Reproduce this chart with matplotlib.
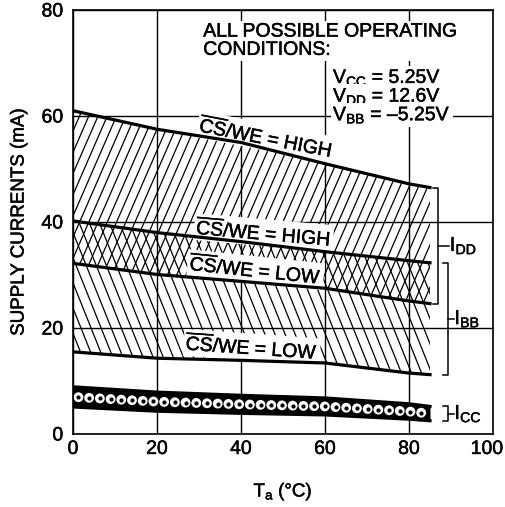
"Supply current vs ambient temperature, datasheet style"

import numpy as np
import matplotlib
matplotlib.use("Agg")
import matplotlib.pyplot as plt
import matplotlib.patheffects as pe
from matplotlib.collections import LineCollection
from matplotlib.patches import PathPatch
from matplotlib.transforms import ScaledTranslation

plt.rcParams['font.family'] = ['Liberation Sans', 'DejaVu Sans']
plt.rcParams['mathtext.fontset'] = 'custom'
plt.rcParams['mathtext.rm'] = 'Liberation Sans'
plt.rcParams['mathtext.it'] = 'Liberation Sans'

# ambient temperature (deg C)
temp = [0, 20, 40, 60, 80, 85]
# supply current limits (mA)
idd_high = [61.0, 57.5, 55.0, 51.0, 47.2, 46.5]
ibb_high = [40.2, 38.0, 36.3, 34.4, 32.7, 32.3]
idd_low = [32.2, 30.1, 28.8, 27.5, 25.1, 24.6]
ibb_low = [15.5, 14.3, 13.9, 13.4, 11.5, 11.2]
icc_high = [8.9, 7.9, 7.3, 6.8, 5.7, 5.2]
icc_low = [5.1, 4.3, 3.9, 3.6, 2.8, 2.5]

curve_labels = [r'$\overline{\mathregular{CS}}$/WE = HIGH',
                r'$\overline{\mathregular{CS}}$/WE = HIGH',
                r'$\overline{\mathregular{CS}}$/WE = LOW',
                r'$\overline{\mathregular{CS}}$/WE = LOW']
header = 'ALL POSSIBLE OPERATING\nCONDITIONS:'
supply_names = ['CC', 'DD', 'BB']
supply_volts = ['5.25V', '12.6V', '\u20135.25V']
xticks = [0, 20, 40, 60, 80, 100]
yticks = [0, 20, 40, 60, 80]

# thicken the type a little, the print is heavier than Liberation regular
heavy = [pe.withStroke(linewidth=0.35, foreground='black')]


def hatch_region(ax, x, lower, upper, slope, step):
    # hand made hatching so the angle can match the print
    poly = ax.fill_between(x, lower, upper, facecolor='none', edgecolor='none')
    clip = PathPatch(poly.get_paths()[0], transform=ax.transData,
                     facecolor='none', edgecolor='none')
    ax.add_patch(clip)
    offsets = np.arange(-60, 140, step)
    segs = [[(c, 0), (c + 80 / slope, 80)] for c in offsets]
    lc = LineCollection(segs, colors='black', linewidths=0.9, zorder=1.8)
    ax.add_collection(lc)
    lc.set_clip_path(clip)


def bracket(ax, x_in, x_out, top, bottom, x_tick, label):
    ax.plot([x_in, x_out, x_out, x_in], [top, top, bottom, bottom],
            color='black', lw=1.1, zorder=2.45)
    mid = (top + bottom) / 2
    ax.plot([x_out, x_tick], [mid, mid], color='black', lw=1.1, zorder=2.45)
    ax.text(x_tick + 0.2, mid, label, ha='left', va='center', fontsize=14.5,
            path_effects=heavy)


fig = plt.figure(figsize=(5.05, 5.07), dpi=100)
ax = fig.add_axes([73 / 505, 1 - 434 / 507, 420 / 505, 424 / 507])

hatch_region(ax, temp, idd_low, idd_high, 1.82, 2.2)
hatch_region(ax, temp, ibb_low, ibb_high, -1.98, 2.4)

# I_CC band: black strip with a row of open dots
ax.fill_between(temp, icc_low, icc_high, color='black', lw=0, zorder=2)
dot_x = np.arange(1.3, 85, 2.55)
dot_y = (np.interp(dot_x, temp, icc_low) + np.interp(dot_x, temp, icc_high)) / 2
ax.scatter(dot_x, dot_y, s=50, facecolor='white', edgecolor='none', zorder=2.1)
ax.scatter(dot_x, dot_y, s=4, color='black', zorder=2.2)

for y in [idd_high, ibb_high, idd_low, ibb_low, icc_high, icc_low]:
    ax.plot(temp, y, color='black', lw=2.3, zorder=2.45)

box = dict(facecolor='white', edgecolor='none', pad=1.5)
label_pos = [(46, 56.0, -11), (45.4, 38.0, -5), (43.5, 31.0, -6), (42.6, 16.4, -4)]
for txt, (lx, ly, rot) in zip(curve_labels, label_pos):
    ax.text(lx, ly, txt, ha='center', va='center', rotation=rot,
            rotation_mode='anchor', fontsize=14, bbox=box, zorder=2.4,
            path_effects=heavy)

ax.text(0.31, 0.968, header, transform=ax.transAxes, ha='left', va='top',
        fontsize=14, linespacing=1.1, bbox=box, zorder=2.4, path_effects=heavy)
for i, (nm, v) in enumerate(zip(supply_names, supply_volts)):
    ax.text(0.619, 0.828 - i * 0.044, r'V$_{\mathregular{%s}}$ = %s' % (nm, v),
            transform=ax.transAxes, ha='left', va='baseline', fontsize=14,
            bbox=box, zorder=2.4, path_effects=heavy)

bracket(ax, 85.6, 87.0, idd_high[-1], idd_low[-1], 89.5, r'I$_{\mathregular{DD}}$')
bracket(ax, 88.2, 89.3, ibb_high[-1], ibb_low[-1], 90.6, r'I$_{\mathregular{BB}}$')
bracket(ax, 88.2, 89.3, icc_high[-1], icc_low[-1], 90.6, r'I$_{\mathregular{CC}}$')

ax.set_xlim(0, 100)
ax.set_ylim(0, 80)
ax.set_xticks(xticks)
ax.set_yticks(yticks)
ax.grid(True, color='black', lw=1.0)
ax.tick_params(length=0, labelsize=14)
ax.tick_params(axis='y', pad=7)
ax.tick_params(axis='x', pad=5)
for s in ax.spines.values():
    s.set_linewidth(1.2)
    s.set_zorder(2.5)

for lab in ax.get_xticklabels() + ax.get_yticklabels():
    lab.set_path_effects(heavy)
# the last x label sits a bit inside the frame in the print
last = ax.get_xticklabels()[-1]
last.set_transform(last.get_transform() + ScaledTranslation(-6 / 100, 0, fig.dpi_scale_trans))

ax.set_ylabel('SUPPLY CURRENTS (mA)', fontsize=13.5, labelpad=10,
              path_effects=heavy)
ax.set_xlabel(r'T$_{\mathregular{a}}$ (°C)', fontsize=13.5, labelpad=17,
              path_effects=heavy)

plt.savefig('out.png', dpi=100)
